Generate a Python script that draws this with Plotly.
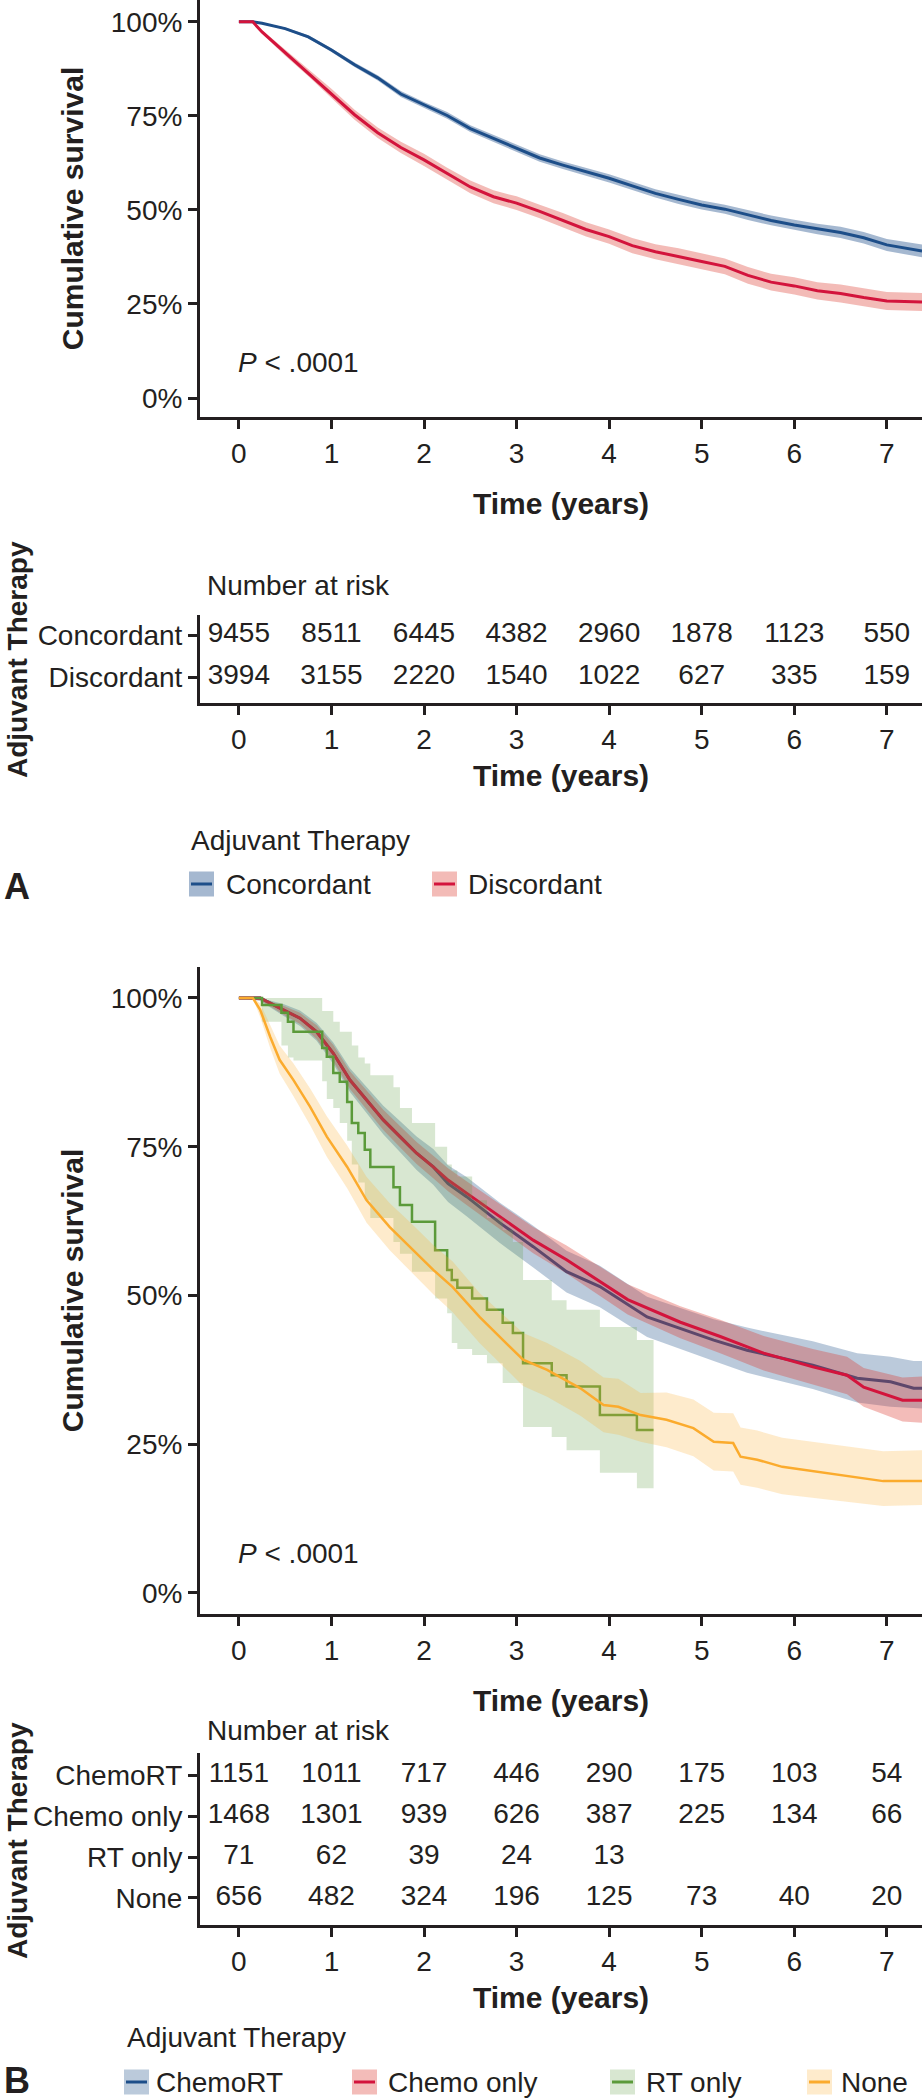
import plotly.graph_objects as go

W, H = 922, 2100
FONT = "Liberation Sans, Arial, Helvetica, sans-serif"
INK = "#231f20"

# ---- Panel A: survival curves (years, %)
t_a = [0, 0.15, 0.25, 0.5, 0.75, 1, 1.25, 1.5, 1.75, 2, 2.25, 2.5, 2.75, 3, 3.25, 3.5,
       3.75, 4, 4.25, 4.5, 4.75, 5, 5.25, 5.5, 5.75, 6, 6.25, 6.5, 6.75, 7, 7.38]
conc = [100, 100, 99.6, 98.2, 96, 92.5, 88.6, 85.1, 80.8, 77.9, 75.1, 71.6, 69, 66.4, 63.8, 61.9,
        60.2, 58.4, 56.4, 54.4, 52.8, 51.3, 50.2, 48.6, 47.2, 46, 44.9, 44, 42.6, 40.7, 39.1]
conc_lo = [100, 100, 99.4, 97.9, 95.6, 92.0, 88.0, 84.4, 80.0, 77.1, 74.2, 70.7, 68.1, 65.4, 62.8, 60.9,
           59.2, 57.3, 55.3, 53.3, 51.6, 50.1, 49.0, 47.3, 45.9, 44.6, 43.5, 42.5, 41.1, 39.1, 37.4]
conc_hi = [100, 100, 99.8, 98.5, 96.4, 93.0, 89.2, 85.8, 81.6, 78.7, 76.0, 72.5, 69.9, 67.4, 64.8, 62.9,
           61.2, 59.5, 57.5, 55.5, 54.0, 52.5, 51.4, 49.9, 48.5, 47.4, 46.3, 45.5, 44.1, 42.3, 40.8]
disc = [100, 100, 97.3, 91.8, 86.5, 81, 75.3, 70.5, 66.6, 63.3, 59.6, 56.1, 53.5, 51.8, 49.6, 47.3,
        44.8, 42.9, 40.5, 38.9, 37.7, 36.3, 35, 32.6, 30.8, 29.8, 28.5, 27.8, 26.7, 25.8, 25.5]
disc_lo = [100, 100, 96.8, 91.0, 85.5, 79.8, 74.0, 69.1, 65.1, 61.7, 58.0, 54.4, 51.8, 50.0, 47.8, 45.4,
           42.9, 41.0, 38.5, 36.9, 35.6, 34.2, 32.9, 30.4, 28.6, 27.5, 26.2, 25.4, 24.3, 23.4, 23.1]
disc_hi = [100, 100, 97.8, 92.6, 87.5, 82.2, 76.6, 71.9, 68.1, 64.9, 61.2, 57.8, 55.2, 53.6, 51.4, 49.2,
           46.7, 44.8, 42.5, 40.9, 39.8, 38.4, 37.1, 34.8, 33.0, 32.1, 30.8, 30.2, 29.1, 28.2, 27.9]

# ---- Panel B: survival curves
t_crt = [0, 0.23, 0.48, 0.66, 0.84, 1.02, 1.2, 1.38, 1.56, 1.74, 1.92, 2.1, 2.26, 2.46, 2.82, 3.18,
         3.54, 3.9, 4.41, 5.13, 5.49, 6.2, 6.68, 7.04, 7.29, 7.38]
s_crt = [100, 100, 98, 96.6, 94.3, 90.7, 86.2, 82.9, 79.5, 76.7, 73.9, 71.6, 68.8, 66.6, 62.2, 58.2,
         54.0, 51.5, 46.4, 42.5, 40.8, 38.3, 36.1, 35.5, 34.4, 34.4]
lo_crt = [100, 99.5, 97, 95.3, 92.8, 88.9, 84.2, 80.7, 77.1, 74.1, 71.1, 68.6, 65.7, 63.3, 58.8, 54.7,
          50.5, 48, 43, 39, 37, 34.3, 32, 31.3, 31, 31]
hi_crt = [100, 100, 99, 97.9, 95.8, 92.5, 88.2, 85.1, 81.9, 79.3, 76.7, 74.6, 71.9, 69.9, 65.6, 61.7,
          57.5, 55, 49.8, 46, 44.6, 42.3, 40.3, 39.7, 39, 39]

t_ch = [0, 0.23, 0.48, 0.66, 0.84, 1.02, 1.2, 1.38, 1.56, 1.74, 1.92, 2.1, 2.26, 2.46, 2.82, 3.18,
        3.54, 3.87, 4.2, 4.77, 5.2, 5.67, 6.2, 6.57, 6.75, 7.17, 7.38]
s_ch = [100, 100, 98, 96.6, 94.3, 90.7, 86.2, 82.9, 79.5, 76.7, 73.9, 71.6, 69.4, 67.2, 63.2, 59.3,
        56.0, 52.6, 49.3, 45.5, 43.1, 40.3, 38.0, 36.6, 34.6, 32.4, 32.4]
lo_ch = [100, 99.6, 97.2, 95.6, 93.1, 89.3, 84.7, 81.3, 77.8, 74.9, 72.1, 69.7, 67.5, 65.2, 61.1, 57.1,
         53.7, 50.2, 46.8, 42.8, 40.3, 37.4, 35, 33.4, 31.3, 28.8, 28.6]
hi_ch = [100, 100, 98.7, 97.5, 95.4, 92.1, 87.7, 84.5, 81.2, 78.5, 75.8, 73.5, 71.4, 69.2, 65.4, 61.5,
         58.4, 55.1, 51.9, 48.2, 45.9, 43.2, 41, 39.7, 37.8, 36.2, 36.4]

t_rt = [0, 0.25, 0.46, 0.53, 0.59, 0.9, 0.95, 1.02, 1.09, 1.17, 1.22, 1.29, 1.36, 1.42, 1.67, 1.74,
        1.87, 2.12, 2.25, 2.30, 2.36, 2.52, 2.68, 2.85, 2.96, 3.07, 3.38, 3.54, 3.9, 4.3, 4.48]
s_rt = [100, 98.8, 97.5, 96, 94.3, 91.6, 90.1, 87.4, 85.9, 82.5, 79, 77.3, 74.5, 71.6, 68.2, 65.2,
        62.4, 57.6, 54.3, 52.6, 51.3, 49.5, 47.6, 45.4, 43.7, 38.6, 36.6, 34.7, 29.9, 27.4, 27.4]
lo_rt = [100, 96, 92, 90, 89.5, 86, 83, 81.5, 79, 76, 72, 69, 66, 63, 59, 57,
         54, 49.5, 47, 42, 41, 40, 38.6, 35.3, 35.3, 27.9, 26.2, 24, 20.2, 17.6, 17.6]
hi_rt = [100, 100, 100, 100, 100, 97.8, 97.8, 96, 94.3, 94.3, 92, 90, 89, 87, 85, 81.5,
         79, 75, 72, 71, 70, 66, 63, 61, 59, 52.6, 49.2, 47.6, 44.7, 42.5, 42.5]

t_no = [0, 0.15, 0.23, 0.34, 0.44, 0.59, 0.77, 0.95, 1.17, 1.38, 1.63, 1.85, 2.1, 2.31, 2.6, 3.07,
        3.33, 3.69, 3.94, 4.1, 4.34, 4.62, 4.91, 5.13, 5.34, 5.42, 5.6, 5.87, 6.28, 6.64, 6.96, 7.38]
s_no = [100, 100, 98, 93.4, 89.6, 86.2, 81.7, 76.7, 71.6, 66, 61.5, 58.2, 54.3, 51.4, 46.4, 39.2,
        37.5, 34.4, 31.6, 31.3, 29.9, 29.1, 27.7, 25.4, 25.2, 22.9, 22.4, 21.2, 20.3, 19.5, 18.8, 18.8]
lo_no = [100, 100, 96.8, 91.5, 87.3, 83.5, 78.6, 73.3, 68, 62.2, 57.6, 54.2, 50.2, 47.2, 42, 34.8,
         33, 29.8, 27, 26.6, 25.4, 24.5, 23, 20.6, 20.4, 18.2, 17.7, 16.6, 15.8, 15.1, 14.6, 14.8]
hi_no = [100, 100, 99.1, 95.3, 92, 89, 84.8, 80.1, 75.2, 69.9, 65.5, 62.3, 58.5, 55.7, 50.4, 43.7,
         42, 39, 36.2, 36, 33.6, 33.7, 32.5, 30.3, 30.2, 27.8, 27.3, 26.1, 25.3, 24.5, 23.8, 24]

# ---- Numbers at risk
risk_years = [0, 1, 2, 3, 4, 5, 6, 7]
risk_a = {
    "Concordant": [9455, 8511, 6445, 4382, 2960, 1878, 1123, 550],
    "Discordant": [3994, 3155, 2220, 1540, 1022, 627, 335, 159],
}
risk_b = {
    "ChemoRT": [1151, 1011, 717, 446, 290, 175, 103, 54],
    "Chemo only": [1468, 1301, 939, 626, 387, 225, 134, 66],
    "RT only": [71, 62, 39, 24, 13],
    "None": [656, 482, 324, 196, 125, 73, 40, 20],
}

COLORS = {
    "Concordant": ("#1d4e89", "rgba(29,78,137,0.40)"),
    "Discordant": ("#d3143c", "rgba(220,60,50,0.35)"),
    "ChemoRT": ("#1d4e89", "rgba(29,78,137,0.30)"),
    "Chemo only": ("#d3143c", "rgba(220,60,50,0.34)"),
    "RT only": ("#5b9a3a", "rgba(100,160,70,0.25)"),
    "None": ("#fbab2d", "rgba(252,175,50,0.25)"),
}


def px(x):
    return x / W


def py(y):
    return 1 - y / H


def add_curve(fig, t, s, lo, hi, name, xa, ya, shape="linear", width=3):
    line_c, band_c = COLORS[name]
    fig.add_trace(go.Scatter(x=t, y=lo, mode="lines", line=dict(width=0, shape=shape),
                             xaxis=xa, yaxis=ya, showlegend=False, hoverinfo="skip"))
    fig.add_trace(go.Scatter(x=t, y=hi, mode="lines", line=dict(width=0, shape=shape),
                             fill="tonexty", fillcolor=band_c,
                             xaxis=xa, yaxis=ya, showlegend=False, hoverinfo="skip"))
    fig.add_trace(go.Scatter(x=t, y=s, mode="lines", name=name,
                             line=dict(color=line_c, width=width, shape=shape),
                             xaxis=xa, yaxis=ya, showlegend=False))


def add_risk(fig, table, xa, ya):
    n = len(table)
    for i, (name, counts) in enumerate(table.items()):
        fig.add_trace(go.Scatter(
            x=risk_years[:len(counts)], y=[n - 1 - i] * len(counts),
            mode="text", text=[str(c) for c in counts],
            textfont=dict(size=28, color=INK, family=FONT),
            xaxis=xa, yaxis=ya, showlegend=False, hoverinfo="skip"))


fig = go.Figure()

add_curve(fig, t_a, conc, conc_lo, conc_hi, "Concordant", "x", "y")
add_curve(fig, t_a, disc, disc_lo, disc_hi, "Discordant", "x", "y")
add_risk(fig, risk_a, "x2", "y2")

add_curve(fig, t_crt, s_crt, lo_crt, hi_crt, "ChemoRT", "x3", "y3")
add_curve(fig, t_ch, s_ch, lo_ch, hi_ch, "Chemo only", "x3", "y3")
add_curve(fig, t_rt, s_rt, lo_rt, hi_rt, "RT only", "x3", "y3", shape="hv", width=2.5)
add_curve(fig, t_no, s_no, lo_no, hi_no, "None", "x3", "y3", width=2.5)
add_risk(fig, risk_b, "x4", "y4")

tickfont = dict(size=28, color=INK, family=FONT)
titlefont = dict(size=30, color=INK, family=FONT)
axis_style = dict(showline=True, linecolor=INK, linewidth=3, ticks="outside", ticklen=9,
                  tickwidth=2.5, tickcolor=INK, showgrid=False, zeroline=False,
                  tickfont=tickfont)
x_dom = [px(200), 1]
x_range = [-0.42, 7.38]


def xaxis(anchor, standoff):
    return dict(axis_style, domain=x_dom, range=x_range, tickvals=risk_years, anchor=anchor,
                title=dict(text="<b>Time (years)</b>", font=titlefont, standoff=standoff))


def ydom(top, bottom):
    return [py(bottom), py(top)]


pct_ticks = dict(tickvals=[0, 25, 50, 75, 100], ticktext=["0%", "25%", "50%", "75%", "100%"])

fig.update_layout(
    width=W, height=H,
    margin=dict(l=0, r=0, t=0, b=0),
    plot_bgcolor="white", paper_bgcolor="white",
    font=dict(family=FONT, color=INK),
    xaxis=xaxis("y", 26),
    yaxis=dict(axis_style, domain=ydom(0, 417), range=[-5.05, 105.8], anchor="x", **pct_ticks,
               title=dict(text="<b>Cumulative survival</b>", font=titlefont, standoff=19)),
    xaxis2=xaxis("y2", 12),
    yaxis2=dict(axis_style, domain=ydom(615, 703), range=[-0.62, 1.48], anchor="x2",
                tickvals=[1, 0], ticktext=list(risk_a.keys())),
    xaxis3=xaxis("y3", 26),
    yaxis3=dict(axis_style, domain=ydom(967, 1614), range=[-3.53, 105.2], anchor="x3", **pct_ticks,
                title=dict(text="<b>Cumulative survival</b>", font=titlefont, standoff=19)),
    xaxis4=xaxis("y4", 12),
    yaxis4=dict(axis_style, domain=ydom(1753, 1925), range=[-0.66, 3.54], anchor="x4",
                tickvals=[3, 2, 1, 0], ticktext=list(risk_b.keys())),
)

annotations = []
shapes = []


def text_at(x, y, text, size=28, xanchor="left", angle=0):
    annotations.append(dict(xref="paper", yref="paper", x=px(x), y=py(y), text=text,
                            showarrow=False, xanchor=xanchor, yanchor="middle", textangle=angle,
                            font=dict(size=size, color=INK, family=FONT)))


# risk table y titles
text_at(17, 660, "<b>Adjuvant Therapy</b>", size=28, xanchor="center", angle=-90)
text_at(17, 1841, "<b>Adjuvant Therapy</b>", size=28, xanchor="center", angle=-90)

# P values and "Number at risk" headers
text_at(236, 362, "<i>P</i> < .0001")
text_at(236, 1553, "<i>P</i> < .0001")
text_at(205, 585, "Number at risk")
text_at(205, 1730, "Number at risk")

# panel labels
text_at(17, 886, "<b>A</b>", size=36, xanchor="center")
text_at(17, 2080, "<b>B</b>", size=36, xanchor="center")


def legend(title_x, title_y, item_y, items):
    text_at(title_x, title_y, "Adjuvant Therapy")
    for name, sx, tx in items:
        line_c, band_c = COLORS[name]
        shapes.append(dict(type="rect", xref="paper", yref="paper",
                           x0=px(sx), x1=px(sx + 25), y0=py(item_y + 12.5), y1=py(item_y - 12.5),
                           fillcolor=band_c, line=dict(width=0)))
        shapes.append(dict(type="line", xref="paper", yref="paper",
                           x0=px(sx + 2), x1=px(sx + 23), y0=py(item_y), y1=py(item_y),
                           line=dict(color=line_c, width=3)))
        text_at(tx, item_y, name)


legend(189, 840, 884, [("Concordant", 189, 224), ("Discordant", 432, 466)])
legend(125, 2037, 2082, [("ChemoRT", 124, 154), ("Chemo only", 352, 386),
                         ("RT only", 610, 644), ("None", 807, 839)])

fig.update_layout(annotations=annotations, shapes=shapes)

fig.write_html("out.html", config={"displayModeBar": False},
               post_script="document.body.style.margin='0px';")
